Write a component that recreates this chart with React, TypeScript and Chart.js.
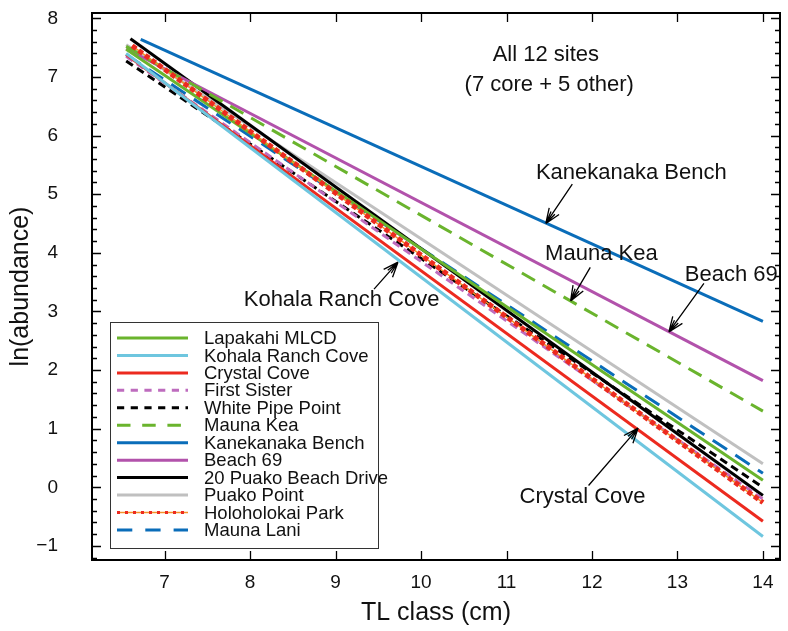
import React, { useEffect, useRef } from "react";
import { Chart, registerables } from "chart.js";
Chart.register(...registerables);

// ---- data ----
const siteNames = [
  "Lapakahi MLCD",
  "Kohala Ranch Cove",
  "Crystal Cove",
  "First Sister",
  "White Pipe Point",
  "Mauna Kea",
  "Kanekanaka Bench",
  "Beach 69",
  "20 Puako Beach Drive",
  "Puako Point",
  "Holoholokai Park",
  "Mauna Lani",
];
const startX = [6.55, 6.55, 6.55, 6.55, 6.55, 6.55, 6.72, 6.55, 6.6, 6.55, 6.62, 6.55];
const startY = [7.47, 7.4, 7.38, 7.35, 7.27, 7.52, 7.64, 7.48, 7.65, 7.55, 7.53, 7.38];
const endX = [14, 14, 14, 14, 14, 14, 14, 14, 14, 14, 14, 14];
const endY = [0.12, -0.84, -0.58, -0.2, 0.0, 1.3, 2.83, 1.82, -0.14, 0.4, -0.26, 0.24];

const xTicks = [7, 8, 9, 10, 11, 12, 13, 14];
const yTicks = [-1, 0, 1, 2, 3, 4, 5, 6, 7, 8];

const annotationTexts = ["Kanekanaka Bench", "Mauna Kea", "Beach 69", "Kohala Ranch Cove", "Crystal Cove"];
const annotationTextX = [12.46, 12.11, 13.63, 9.07, 11.89];
const annotationTextY = [5.37, 3.98, 3.62, 3.19, -0.17];
const arrowFromX = [11.77, 11.98, 13.31, 9.45, 11.96];
const arrowFromY = [5.17, 3.75, 3.48, 3.38, 0.03];
const arrowToX = [11.46, 11.75, 12.9, 9.73, 12.54];
const arrowToY = [4.5, 3.18, 2.65, 3.84, 1.01];

const titleLines = ["All 12 sites", "(7 core + 5 other)"];
const titleX = [11.46, 11.5];
const titleY = [7.37, 6.86];

// ---- styles ----
const FONT = "'Liberation Sans', Arial, Helvetica, sans-serif";
const colors = [
  "#6AB42D", "#6EC6DF", "#EC2A1F", "#BE6CBE", "#000000", "#6AB42D",
  "#0A6DB9", "#B252AB", "#000000", "#C0C0C0", "#EC2A1F", "#0A6DB9",
];
const dashes: number[][] = [
  [], [], [], [8, 5], [8, 5], [15, 9], [], [], [], [], [5, 3], [17, 10],
];
const widths = [3, 3, 3, 3, 3, 3, 3, 3, 3, 3, 5, 3];
const orangeUnder = "#F5922A";

const framePlugin = {
  id: "framePlugin",
  afterDraw(chart: any) {
    const { ctx, chartArea: a, scales } = chart;
    const xs = scales.x;
    const ys = scales.y;
    ctx.save();
    // frame
    ctx.strokeStyle = "#000";
    ctx.lineWidth = 2;
    ctx.strokeRect(a.left, a.top, a.right - a.left, a.bottom - a.top);
    // ticks
    ctx.lineWidth = 1.3;
    ctx.beginPath();
    for (const v of yTicks) {
      const p = Math.round(ys.getPixelForValue(v)) + 0.5;
      ctx.moveTo(a.left, p); ctx.lineTo(a.left + 9, p);
      ctx.moveTo(a.right, p); ctx.lineTo(a.right - 9, p);
    }
    for (let k = -6; k <= 40; k++) {
      const v = k * 0.2;
      if (Math.abs(v - Math.round(v)) < 1e-6) continue;
      if (v < ys.min || v > ys.max) continue;
      const p = Math.round(ys.getPixelForValue(v)) + 0.5;
      ctx.moveTo(a.left, p); ctx.lineTo(a.left + 5, p);
      ctx.moveTo(a.right, p); ctx.lineTo(a.right - 5, p);
    }
    for (const v of xTicks) {
      const p = Math.round(xs.getPixelForValue(v)) + 0.5;
      ctx.moveTo(p, a.bottom); ctx.lineTo(p, a.bottom - 9);
      ctx.moveTo(p, a.top); ctx.lineTo(p, a.top + 9);
    }
    ctx.stroke();

    // title text
    ctx.fillStyle = "#111";
    ctx.textAlign = "center";
    ctx.textBaseline = "middle";
    ctx.font = `22px ${FONT}`;
    titleLines.forEach((t, i) => {
      ctx.fillText(t, xs.getPixelForValue(titleX[i]), ys.getPixelForValue(titleY[i]));
    });

    // annotations
    annotationTexts.forEach((t, i) => {
      ctx.fillText(t, xs.getPixelForValue(annotationTextX[i]), ys.getPixelForValue(annotationTextY[i]));
      const x0 = xs.getPixelForValue(arrowFromX[i]);
      const y0 = ys.getPixelForValue(arrowFromY[i]);
      const x1 = xs.getPixelForValue(arrowToX[i]);
      const y1 = ys.getPixelForValue(arrowToY[i]);
      const ang = Math.atan2(y1 - y0, x1 - x0);
      ctx.strokeStyle = "#000";
      ctx.lineWidth = 1.3;
      ctx.beginPath();
      ctx.moveTo(x0, y0); ctx.lineTo(x1, y1);
      for (const [da, len] of [[0.38, 16], [-0.38, 16], [0.18, 13], [-0.18, 13]]) {
        ctx.moveTo(x1, y1);
        ctx.lineTo(x1 - len * Math.cos(ang + da), y1 - len * Math.sin(ang + da));
      }
      ctx.stroke();
    });

    // legend box
    const bx = 110, by = 322, bw = 268, bh = 226;
    ctx.fillStyle = "#fff";
    ctx.fillRect(bx, by, bw, bh);
    ctx.strokeStyle = "#333";
    ctx.lineWidth = 1;
    ctx.strokeRect(bx + 0.5, by + 0.5, bw, bh);
    ctx.font = `18.5px ${FONT}`;
    ctx.textAlign = "left";
    ctx.textBaseline = "middle";
    siteNames.forEach((name, i) => {
      const yy = by + 16 + i * 17.45;
      if (i === 10) {
        ctx.strokeStyle = orangeUnder;
        ctx.lineWidth = 1.5;
        ctx.setLineDash([]);
        ctx.beginPath(); ctx.moveTo(117, yy); ctx.lineTo(188, yy); ctx.stroke();
        ctx.strokeStyle = colors[i];
        ctx.lineWidth = 3;
        ctx.setLineDash([3, 5]);
      } else {
        ctx.strokeStyle = colors[i];
        ctx.lineWidth = 3;
        ctx.setLineDash(dashes[i].length ? [dashes[i][0] * 0.9, dashes[i][1] * 1.3] : []);
      }
      ctx.beginPath(); ctx.moveTo(117, yy); ctx.lineTo(188, yy); ctx.stroke();
      ctx.setLineDash([]);
      ctx.fillStyle = "#111";
      ctx.fillText(name, 204, yy + 1);
    });
    ctx.restore();
  },
};

export default function App() {
  const ref = useRef<HTMLCanvasElement>(null);
  useEffect(() => {
    document.body.style.margin = "0";
    const canvas = ref.current!;
    const datasets: any[] = [];
    siteNames.forEach((name, i) => {
      datasets.push({
        label: name,
        data: [
          { x: startX[i], y: startY[i] },
          { x: endX[i], y: endY[i] },
        ],
        borderColor: colors[i],
        borderWidth: widths[i],
        borderDash: dashes[i],
        pointRadius: 0,
        fill: false,
        tension: 0,
        order: i === 10 ? -2 : i,
      });
      if (i === 10) {
        datasets.push({
          label: name + " (line)",
          data: [
            { x: startX[i], y: startY[i] },
            { x: endX[i], y: endY[i] },
          ],
          borderColor: orangeUnder,
          borderWidth: 1.5,
          pointRadius: 0,
          fill: false,
          order: -1,
        });
      }
    });
    const zeroPad = (s: any) => {
      s.paddingTop = 0;
      s.paddingBottom = 0;
      s.paddingLeft = 0;
      s.paddingRight = 0;
    };
    const chart = new Chart(canvas, {
      type: "line",
      data: { datasets },
      options: {
        animation: false,
        responsive: false,
        maintainAspectRatio: false,
        layout: { padding: { top: 13, right: 8, left: 0, bottom: 0 } },
        plugins: { legend: { display: false }, tooltip: { enabled: false } },
        scales: {
          x: {
            type: "linear",
            min: 6.15,
            max: 14.2,
            afterBuildTicks: (s: any) => { s.ticks = xTicks.map((v) => ({ value: v })); },
            afterFit: (s: any) => { s.height = 71; zeroPad(s); },
            grid: { display: false, drawTicks: false },
            border: { display: false },
            ticks: { color: "#111", font: { size: 19, family: FONT }, padding: 11, maxRotation: 0 },
            title: { display: true, text: "TL class (cm)", color: "#111", font: { size: 25, family: FONT }, padding: { bottom: 3, top: 0 } },
          },
          y: {
            type: "linear",
            min: -1.24,
            max: 8.09,
            afterBuildTicks: (s: any) => { s.ticks = yTicks.map((v) => ({ value: v })); },
            afterFit: (s: any) => { s.width = 92; zeroPad(s); },
            grid: { display: false, drawTicks: false },
            border: { display: false },
            ticks: {
              color: "#111",
              font: { size: 19, family: FONT },
              padding: 34,
              callback: (v: any) => (Number(v) < 0 ? "\u2212" + Math.abs(Number(v)) : String(v)),
            },
            title: { display: true, text: "ln(abundance)", color: "#111", font: { size: 25, family: FONT }, padding: { top: 6, bottom: 0 } },
          },
        },
      },
      plugins: [framePlugin],
    });
    return () => chart.destroy();
  }, []);
  return (
    <div style={{ width: 788, height: 631, position: "relative", background: "#fff" }}>
      <canvas ref={ref} width={788} height={631} style={{ display: "block" }} />
    </div>
  );
}
